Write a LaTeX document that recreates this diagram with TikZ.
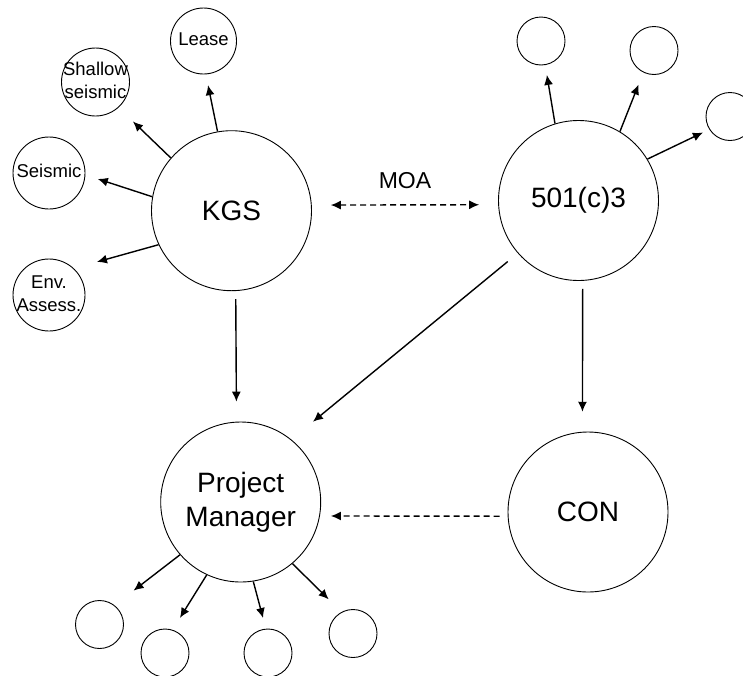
\documentclass[tikz,border=0pt]{standalone}
\usepackage{fontspec}
\setmainfont{Liberation Sans}
\usetikzlibrary{arrows.meta}

\newcommand{\fitcircle}[1]{\makebox[0pt]{\begin{tabular}{@{}c@{}}#1\end{tabular}}}

\begin{document}
\begin{tikzpicture}[x=1pt,y=-1pt,>={Latex[length=10pt,width=9pt]}]
	\tikzstyle{party}=[circle,draw,line width=0.9pt,minimum size=160pt,inner sep=0pt,align=center,font=\fontsize{28}{34}\selectfont]
	\tikzstyle{task}=[circle,draw,line width=0.9pt,minimum size=48pt,inner sep=0pt,font=\fontsize{18.5}{23}\selectfont]
	\tikzstyle{edge}=[draw,line width=1.4pt,->]
	\tikzstyle{agreement}=[edge,dash pattern=on 6pt off 4pt]

	\useasboundingbox (0,0) rectangle (743,675);

	\node[party] (kgs) at (231.5,210.7) {KGS};
	\node[party] (npo) at (578.5,200.5) {501(c)3};
	\node[party] (pm) at (240.7,502) {Project\\Manager};
	\node[party] (con) at (588,512) {CON};

	\node[task, minimum size=66pt] (lease) at (203.5,41) {\fitcircle{Lease}};
	\node[task, minimum size=68pt] (shallow) at (95.5,82) {\fitcircle{Shallow\\seismic}};
	\node[task, minimum size=72pt] (seismic) at (49,173) {\fitcircle{Seismic}};
	\node[task, minimum size=72pt] (env) at (49,295) {\fitcircle{Env.\\Assess.}};

	\node[task] (n1) at (541,41) {};
	\node[task] (n2) at (654,50.5) {};
	\node[task] (n3) at (730,116.5) {};

	\node[task] (p1) at (99.5,624.5) {};
	\node[task] (p2) at (165,653) {};
	\node[task] (p3) at (268,653) {};
	\node[task] (p4) at (353,633.5) {};

	\draw[edge,shorten >=11pt] (kgs.100) -- (lease.274);
	\draw[edge,shorten >=20pt] (kgs.139) -- (shallow.312);
	\draw[edge,shorten >=13pt] (kgs.170) -- (seismic.357);
	\draw[edge,shorten >=24pt] (kgs.205) -- (env.47);

	\draw[edge,shorten >=10pt] (npo.107) -- (n1.280);
	\draw[edge,shorten >=13pt] (npo.59) -- (n2.244);
	\draw[edge,shorten >=7pt] (npo.31) -- (n3.212);

	\draw[edge,shorten >=24pt] (pm.221) -- (p1.52);
	\draw[edge,shorten >=14pt] (pm.245) -- (p2.72);
	\draw[edge,shorten >=11pt] (pm.279) -- (p3.95);
	\draw[edge,shorten >=18pt] (pm.310) -- (p4.118);

	\draw[edge,shorten <=8pt,shorten >=20pt] (kgs.273) -- (pm.93.6);
	\draw[edge,shorten <=13pt,shorten >=28pt] (npo.221) -- (pm.51);
	\draw[edge,shorten <=8pt,shorten >=20pt] (npo.273) -- (con.94);
	\draw[agreement,shorten <=8pt,shorten >=11pt] (con.183) -- (pm.350);
	\draw[agreement,<->,shorten <=19pt,shorten >=19pt] (kgs.4) -- node[above=15pt,inner sep=0pt,font=\fontsize{23}{28}\selectfont] (moa) {MOA} (npo.183);
\end{tikzpicture}
\end{document}
